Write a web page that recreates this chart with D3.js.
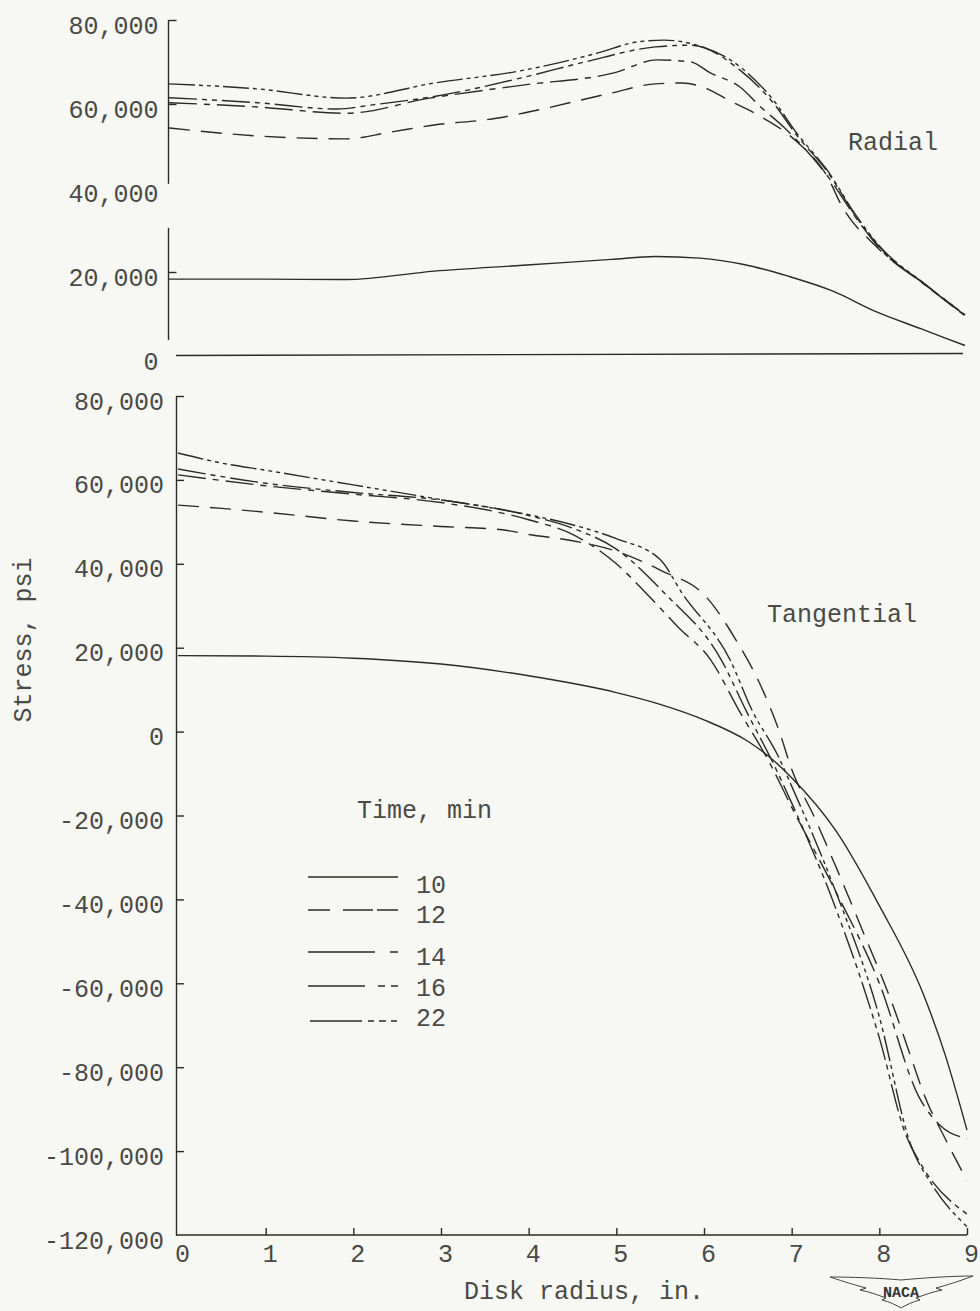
<!DOCTYPE html>
<html><head><meta charset="utf-8">
<script src="https://cdn.jsdelivr.net/npm/d3@7"></script>
<style>
html,body{margin:0;padding:0;background:#f7f7f4;}
svg{display:block;}
text{font-family:"Liberation Mono","Courier New",monospace;}
</style></head><body>
<svg id="c" width="980" height="1311"></svg>
<script>
// ---------- DATA ----------
const times = ["10", "12", "14", "16", "22"];
const xTickValues = [0, 1, 2, 3, 4, 5, 6, 7, 8, 9];
const yTicksRadial = [0, 20000, 40000, 60000, 80000];
const yTicksTangential = [80000, 60000, 40000, 20000, 0, -20000, -40000, -60000, -80000, -100000, -120000];

// Radial stress [disk radius in., stress psi]
const radial10 = [[0,18300],[1,18300],[2,18200],[3,20200],[4,21600],[5,23000],[5.5,23700],[6,23300],[6.5,21800],[7,19000],[7.5,15500],[8,10500],[8.5,6500],[9,2500]];
const radial12 = [[0,54300],[1,52400],[2,51700],[2.5,53300],[3,55000],[3.7,56600],[4,57800],[5,62600],[5.5,64800],[5.8,65000],[6.1,63500],[6.3,61200],[6.65,57500],[7.1,51000],[7.45,42500],[7.6,36000],[8,26000],[8.5,17800],[9,9800]];
const radial14 = [[0,60300],[1,59300],[2,57800],[2.95,61400],[4,64500],[5.03,67400],[5.52,70500],[5.9,70000],[6.12,67400],[6.46,64000],[6.69,59300],[6.95,54500],[7.44,43000],[7.78,32500],[8.04,25500],[8.53,17200],[9,9600]];
const radial16 = [[0,61500],[1,60300],[1.9,58800],[2.3,59800],[3,61800],[4,66300],[4.7,70000],[5.5,73600],[5.9,74000],[6.46,68000],[6.83,60300],[7.1,52500],[7.44,44000],[7.78,32800],[8.04,25800],[8.53,17300],[9,9700]];
const radial22 = [[0,64800],[1,63600],[2,61400],[3,65000],[4,68000],[4.84,72100],[5.3,74800],[5.6,75200],[5.9,74400],[6.46,68800],[6.83,61000],[7.1,53000],[7.44,44300],[7.78,33100],[8.04,26000],[8.53,17400],[9,9800]];

// Tangential stress [disk radius in., stress psi]
const tangential10 = [[0,18100],[1,18000],[2,17500],[3,16100],[4,13300],[5,9300],[5.5,6500],[6,2800],[6.5,-2300],[6.8,-7000],[7,-11000],[7.5,-23500],[8,-41500],[8.5,-62500],[8.75,-77000],[9,-95000]];
const tangential12 = [[0,54000],[0.5,53200],[1,52300],[2,50200],[3,48900],[3.7,48100],[4,47000],[4.5,45500],[5,43000],[5.5,38500],[6.03,32000],[6.36,22000],[6.63,11700],[6.86,0],[7,-9000],[7.25,-20000],[7.5,-32000],[7.8,-47000],[8.15,-65000],[8.4,-80000],[8.5,-86000],[8.75,-97000],[9,-107000]];
const tangential14 = [[0,61200],[1,58600],[2,56600],[3,54600],[4,50500],[4.5,47000],[5,40000],[5.34,33000],[5.7,25000],[6.08,17000],[6.4,5000],[6.75,-7500],[7,-18000],[7.5,-38000],[8,-60000],[8.45,-87000],[8.7,-94000],[9,-97000]];
const tangential16 = [[0,62600],[1,59200],[2,57000],[3,55200],[4,51500],[4.5,48500],[5,43500],[5.55,33000],[6.2,17000],[6.48,5000],[6.8,-8000],[7,-17000],[7.5,-42000],[8,-73000],[8.3,-96000],[8.5,-104000],[9,-115000]];
const tangential22 = [[0,66400],[0.5,64000],[1,62300],[2,58800],[3,55300],[4,51700],[4.5,49300],[5,46000],[5.5,41000],[5.75,33000],[6.3,17000],[6.55,5000],[6.85,-6000],[7,-13000],[7.5,-38000],[8,-68000],[8.35,-98000],[8.6,-108000],[9,-118000]];

const radialSeries = [radial10, radial12, radial14, radial16, radial22];
const tangentialSeries = [tangential10, tangential12, tangential14, tangential16, tangential22];

// ---------- STYLE ----------
const INK = "#2b2b26";
const TXT = "#4a4a45";
const plotDash = {"10": null, "12": "21,11", "14": "28,7,6,7", "16": "28,5,5,5,5,5", "22": "26,4,4,4,4,4,4,4"};
const legendDash = {"10": null, "12": "22,13,30,4,22", "14": "67,15,9", "16": "57,13,7,6,7", "22": "52,6,6,5,7,5,6"};

const svg = d3.select("#c");

// ---------- SCALES ----------
const xTop = d3.scaleLinear().domain([0, 9]).range([169, 965]);
const yTop = d3.scaleLinear().domain([0, 80000]).range([356, 20]);
const xBot = d3.scaleLinear().domain([0, 9]).range([178, 967]);
const yBot = d3.scaleLinear().domain([-120000, 80000]).range([1235, 396]);

const commaFmt = d3.format(",");
const fmt = d => commaFmt(d).replace("\u2212", "-");

function styleAxis(g) {
  g.selectAll("path.domain").attr("stroke", INK).attr("stroke-width", 1.4);
  g.selectAll(".tick line").attr("stroke", INK).attr("stroke-width", 1.4);
  g.selectAll(".tick text").attr("fill", TXT).attr("font-size", 25)
    .attr("font-family", "'Liberation Mono','Courier New',monospace");
}

// ---------- TOP PANEL (Radial) ----------
const axTop = svg.append("g").attr("transform", "translate(168.5,0)")
  .call(d3.axisLeft(yTop).tickValues(yTicksRadial).tickFormat(fmt).tickSizeInner(-8).tickSizeOuter(0).tickPadding(10));
axTop.select("path.domain").remove();
axTop.selectAll(".tick").filter(d => d === 0 || d === 40000).select("line").remove();
axTop.selectAll(".tick text").attr("y", 5);
styleAxis(axTop);
// broken vertical axis
const topAxisSegments = [[80000, 41000], [30500, 3800]];
svg.append("g").selectAll("line").data(topAxisSegments).join("line")
  .attr("x1", 168.5).attr("x2", 168.5)
  .attr("y1", d => yTop(d[0])).attr("y2", d => yTop(d[1]))
  .attr("stroke", INK).attr("stroke-width", 1.4);
// zero line
svg.append("line").attr("x1", 176).attr("x2", xTop(9) - 2)
  .attr("y1", yTop(0) - 0.5).attr("y2", yTop(0) - 2.5)
  .attr("stroke", INK).attr("stroke-width", 1.4);

const lineTop = d3.line().x(d => xTop(d[0])).y(d => yTop(d[1])).curve(d3.curveMonotoneX);
svg.append("g").selectAll("path").data(radialSeries).join("path")
  .attr("d", lineTop).attr("fill", "none").attr("stroke", INK).attr("stroke-width", 1.4)
  .attr("stroke-dasharray", (d, i) => plotDash[times[i]]);

svg.append("text").attr("x", 848).attr("y", 150).attr("font-size", 25).attr("fill", TXT).text("Radial");

// ---------- BOTTOM PANEL (Tangential) ----------
const axLeft = svg.append("g").attr("transform", "translate(176,0)")
  .call(d3.axisLeft(yBot).tickValues(yTicksTangential).tickFormat(fmt).tickSizeInner(-8).tickSizeOuter(0).tickPadding(12));
axLeft.selectAll(".tick").filter(d => d === -120000).select("line").remove();
axLeft.selectAll(".tick text").attr("y", 5);
styleAxis(axLeft);

const axBottom = svg.append("g").attr("transform", `translate(0,${yBot(-120000)})`)
  .call(d3.axisBottom(xBot).tickValues(xTickValues).tickFormat(d3.format("d")).tickSizeInner(-7).tickSizeOuter(0).tickPadding(9));
axBottom.selectAll(".tick").filter(d => d === 0).select("line").remove();
axBottom.selectAll(".tick text").attr("x", 4);
styleAxis(axBottom);
axBottom.select("path.domain").attr("d", `M176,0H${xBot(9)}`);

const lineBot = d3.line().x(d => xBot(d[0])).y(d => yBot(d[1])).curve(d3.curveMonotoneX);
svg.append("g").selectAll("path").data(tangentialSeries).join("path")
  .attr("d", lineBot).attr("fill", "none").attr("stroke", INK).attr("stroke-width", 1.4)
  .attr("stroke-dasharray", (d, i) => plotDash[times[i]]);

svg.append("text").attr("x", 767).attr("y", 622).attr("font-size", 25).attr("fill", TXT).text("Tangential");

// axis titles
svg.append("text").attr("transform", "translate(31,640) rotate(-90)").attr("text-anchor", "middle")
  .attr("font-size", 25).attr("fill", TXT).text("Stress, psi");
svg.append("text").attr("x", 584).attr("y", 1299).attr("text-anchor", "middle")
  .attr("font-size", 25).attr("fill", TXT).text("Disk radius, in.");

// ---------- LEGEND ----------
svg.append("text").attr("x", 357).attr("y", 818).attr("font-size", 25).attr("fill", TXT).text("Time, min");
const legendLineY = [877, 910, 952, 986, 1021];
const legendTextY = [893, 923, 965, 996, 1026];
const leg = svg.append("g").selectAll("g").data(times).join("g");
leg.append("line").attr("x1", (d, i) => i === 4 ? 310 : 308).attr("x2", 398)
  .attr("y1", (d, i) => legendLineY[i]).attr("y2", (d, i) => legendLineY[i])
  .attr("stroke", INK).attr("stroke-width", 1.4)
  .attr("stroke-dasharray", d => legendDash[d]);
leg.append("text").attr("x", 416).attr("y", (d, i) => legendTextY[i])
  .attr("font-size", 25).attr("fill", TXT).text(d => d);

// ---------- NACA logo ----------
const logo = svg.append("g").attr("fill", "none").attr("stroke", "#444").attr("stroke-width", 1);
logo.append("path").attr("d",
  "M901,1280 C880,1278 850,1277 830,1277 C845,1282 855,1285 866,1288 L860,1290 C870,1292 878,1295 886,1298 L882,1300 C890,1302 896,1305 901,1308 " +
  "C906,1305 912,1302 920,1300 L916,1298 C924,1295 932,1292 942,1290 L936,1288 C947,1285 957,1282 973,1276 C952,1276 922,1278 901,1280 Z");
svg.append("text").attr("x", 901).attr("y", 1297).attr("text-anchor", "middle")
  .attr("font-family", "'Liberation Sans',Arial,sans-serif").attr("font-weight", "bold")
  .attr("font-size", 15).attr("fill", "#333").text("NACA");
</script></body></html>
